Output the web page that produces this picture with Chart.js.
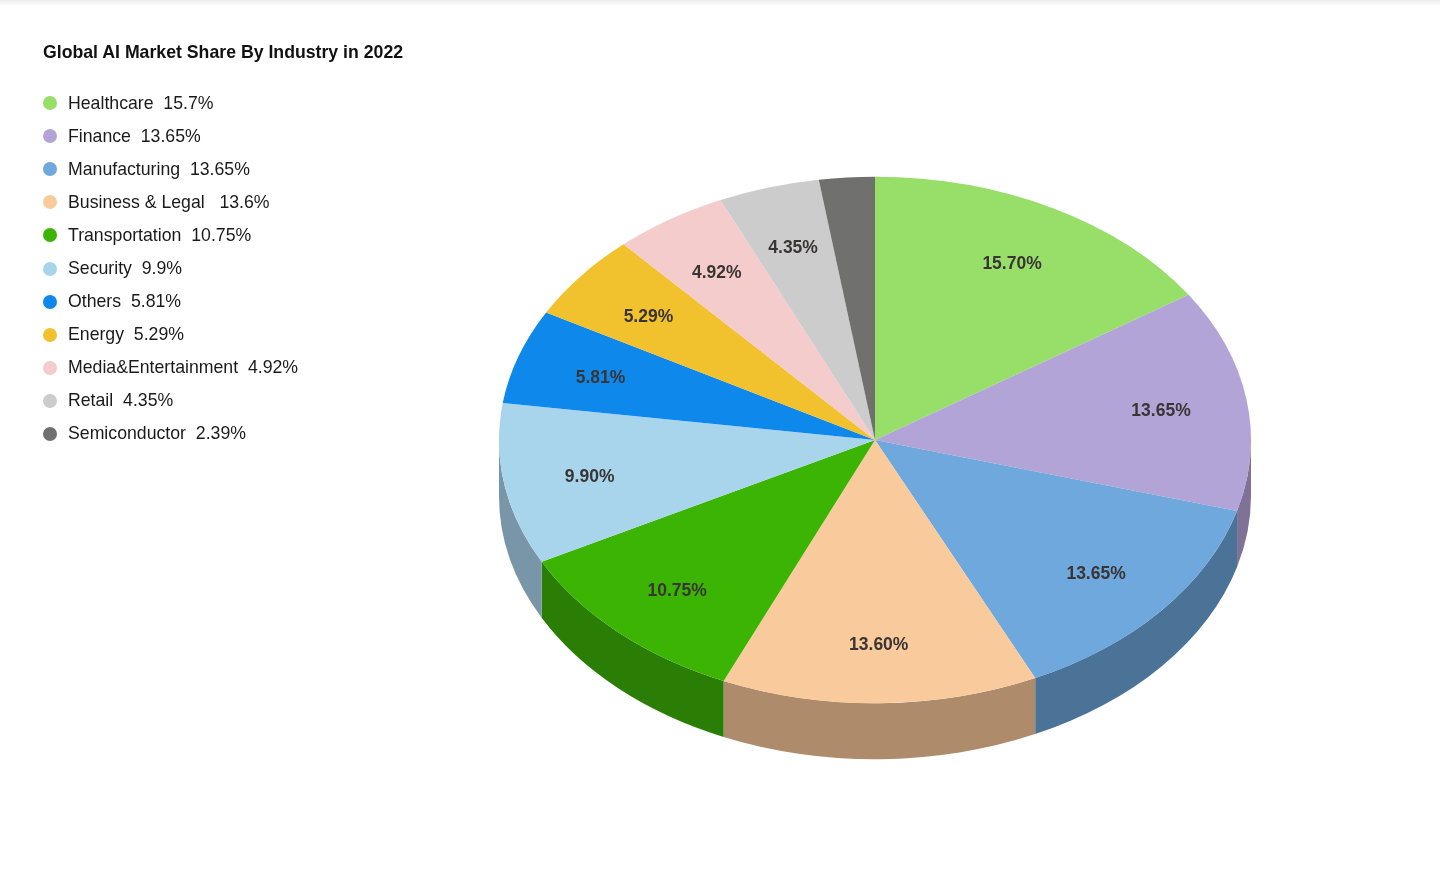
<!DOCTYPE html>
<html>
<head>
<meta charset="utf-8">
<script src="https://cdn.jsdelivr.net/npm/chart.js@4.4.1/dist/chart.umd.min.js"></script>
<style>
  html, body { margin: 0; padding: 0; background: #fff; }
  body { width: 1440px; height: 888px; position: relative; overflow: hidden; font-family: "Liberation Sans", Arial, sans-serif; }
  .topshade { position: absolute; left: 0; top: 0; width: 1440px; height: 6px; background: linear-gradient(#ececec, rgba(255,255,255,0)); z-index: 3; }
  #pie { position: absolute; left: 0; top: 0; }
  .title { position: absolute; left: 43px; top: 42px; font-size: 17.7px; line-height: 20px; font-weight: bold; color: #111; z-index: 2; }
  .legend { position: absolute; left: 43px; top: 86.5px; z-index: 2; }
  .legend div { height: 33.1px; display: flex; align-items: center; font-size: 17.7px; color: #1a1a1a; white-space: pre; }
  .legend span.dot { width: 14px; height: 14px; border-radius: 50%; margin-right: 11px; flex: none; }
</style>
</head>
<body>
<div class="topshade"></div>
<div class="title">Global AI Market Share By Industry in 2022</div>
<div class="legend" id="legend"></div>
<canvas id="pie" width="1440" height="888"></canvas>
<script>
// data
const industries = ['Healthcare', 'Finance', 'Manufacturing', 'Business & Legal', 'Transportation',
  'Security', 'Others', 'Energy', 'Media&Entertainment', 'Retail', 'Semiconductor'];
const shares = [15.7, 13.65, 13.65, 13.6, 10.75, 9.9, 5.81, 5.29, 4.92, 4.35, 2.39];
const legendText = ['15.7%', '13.65%', '13.65%', ' 13.6%', '10.75%', '9.9%', '5.81%', '5.29%', '4.92%', '4.35%', '2.39%'];

const topColors = ['#98df6a', '#b3a4d7', '#6fa8dc', '#f9cb9c', '#3cb404', '#a8d5ec',
  '#0f88ec', '#f2c12e', '#f4cccc', '#cccccc', '#70716e'];
const sideColors = ['#6b9c4a', '#7e7397', '#4b7398', '#ae8c6b', '#2b7e05', '#7896a8',
  '#0b5fa5', '#a98720', '#ab8f8f', '#8f8f8f', '#4e4f4d'];

// legend
const legend = document.getElementById('legend');
industries.forEach((name, i) => {
  const row = document.createElement('div');
  const dot = document.createElement('span');
  dot.className = 'dot';
  dot.style.background = topColors[i];
  row.appendChild(dot);
  row.appendChild(document.createTextNode(name + '  ' + legendText[i]));
  legend.appendChild(row);
});

const tilt = 0.7;
const depth = 56;

// squash the pie into an ellipse and draw the front wall underneath
const pie3d = {
  id: 'pie3d',
  beforeDatasetsDraw(chart) {
    const ctx = chart.ctx;
    const arcs = chart.getDatasetMeta(0).data;
    const cx = arcs[0].x, cy = arcs[0].y;
    arcs.forEach((arc, i) => {
      const r = arc.outerRadius;
      const s = Math.max(arc.startAngle, 0);
      const e = Math.min(arc.endAngle, Math.PI);
      if (e <= s) return;
      ctx.beginPath();
      ctx.ellipse(cx, cy, r, r * tilt, 0, s, e);
      ctx.ellipse(cx, cy + depth, r, r * tilt, 0, e, s, true);
      ctx.closePath();
      ctx.fillStyle = sideColors[i];
      ctx.fill();
    });
    ctx.save();
    ctx.translate(cx, cy);
    ctx.scale(1, tilt);
    ctx.translate(-cx, -cy);
  },
  afterDatasetsDraw(chart) {
    const ctx = chart.ctx;
    ctx.restore();
    const arcs = chart.getDatasetMeta(0).data;
    ctx.save();
    ctx.font = 'bold 17.5px "Liberation Sans", Arial, sans-serif';
    ctx.fillStyle = '#3a3535';
    ctx.textAlign = 'center';
    ctx.textBaseline = 'middle';
    arcs.forEach((arc, i) => {
      if (shares[i] < 3) return; // too thin for a label
      const m = (arc.startAngle + arc.endAngle) / 2;
      const r = arc.outerRadius * 0.77;
      ctx.fillText(shares[i].toFixed(2) + '%', arc.x + r * Math.cos(m), arc.y + 3 + r * tilt * Math.sin(m));
    });
    ctx.restore();
  }
};

new Chart(document.getElementById('pie'), {
  type: 'pie',
  data: {
    labels: industries,
    datasets: [{
      data: shares,
      backgroundColor: topColors,
      borderWidth: 0,
      hoverOffset: 0
    }]
  },
  options: {
    responsive: false,
    animation: false,
    events: [],
    layout: { padding: { left: 499, right: 189, top: 64, bottom: 72 } },
    plugins: {
      legend: { display: false },
      tooltip: { enabled: false }
    }
  },
  plugins: [pie3d]
});
</script>
</body>
</html>
